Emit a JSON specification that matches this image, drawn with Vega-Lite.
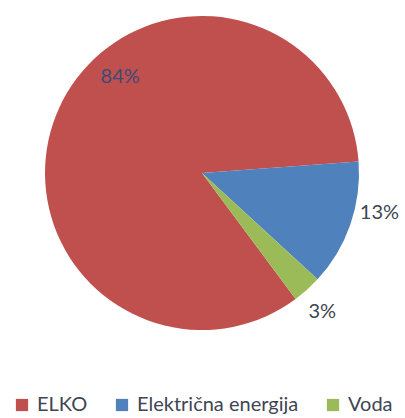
{
  "$schema": "https://vega.github.io/schema/vega-lite/v6.json",
  "width": 404,
  "height": 346,
  "padding": 0,
  "background": "white",
  "data": {"values": [
    {"kategorija": "ELKO", "udio": 84, "oznaka": "84%", "redoslijed": 1},
    {"kategorija": "Električna energija", "udio": 13, "oznaka": "13%", "redoslijed": 2},
    {"kategorija": "Voda", "udio": 3, "oznaka": "3%", "redoslijed": 3}
  ]},
  "transform": [
    {"stack": "udio", "groupby": [], "sort": [{"field": "redoslijed", "order": "ascending"}], "as": ["s0", "s1"]}
  ],
  "encoding": {
    "theta": {"field": "s0", "type": "quantitative", "scale": {"domain": [0, 100], "range": [2.503, 8.786]}},
    "theta2": {"field": "s1"}
  },
  "layer": [
    {
      "mark": {"type": "arc", "outerRadius": 157},
      "encoding": {
        "color": {
          "field": "kategorija", "type": "nominal",
          "sort": ["ELKO", "Električna energija", "Voda"],
          "scale": {"domain": ["ELKO", "Električna energija", "Voda"], "range": ["#C0504D", "#4F81BD", "#9BBB59"]},
          "legend": {
            "title": null, "orient": "bottom", "direction": "horizontal",
            "symbolType": "square", "symbolSize": 150, "symbolStrokeWidth": 0,
            "labelFont": "Lato", "labelFontSize": 20, "labelColor": "#404552", "labelLimit": 400,
            "columnPadding": 24, "symbolOffset": 0, "labelOffset": 5, "offset": 49
          }
        }
      }
    },
    {
      "transform": [{"filter": "datum.kategorija === 'ELKO'"}],
      "mark": {"type": "text", "radius": 126, "thetaOffset": 3.074, "font": "Lato", "fontSize": 20, "color": "#3d4a78"},
      "encoding": {"text": {"field": "oznaka"}}
    },
    {
      "transform": [{"filter": "datum.kategorija === 'Električna energija'"}],
      "mark": {"type": "text", "radius": 182, "thetaOffset": 0.297, "font": "Lato", "fontSize": 20, "color": "#404552"},
      "encoding": {"text": {"field": "oznaka"}}
    },
    {
      "transform": [{"filter": "datum.kategorija === 'Voda'"}],
      "mark": {"type": "text", "radius": 184, "thetaOffset": 0.115, "font": "Lato", "fontSize": 20, "color": "#404552"},
      "encoding": {"text": {"field": "oznaka"}}
    }
  ],
  "config": {
    "view": {"stroke": null},
    "legend": {"layout": {"bottom": {"anchor": "middle"}}}
  }
}
